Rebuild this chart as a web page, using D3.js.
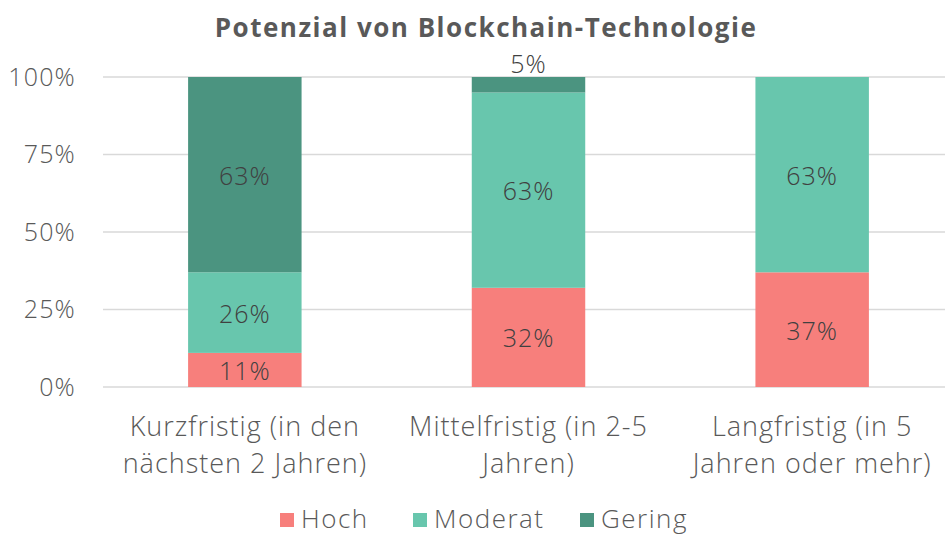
<!DOCTYPE html>
<html>
<head>
<meta charset="utf-8">
<script src="https://cdn.jsdelivr.net/npm/d3@7"></script>
<style>
  body { margin: 0; background: #fff; }
  text { font-family: "Open Sans", "Lato", sans-serif; font-weight: 300; }
</style>
</head>
<body>
<svg id="chart" width="945" height="535"></svg>
<script>
// data
var categories = [
  ["Kurzfristig (in den", "nächsten 2 Jahren)"],
  ["Mittelfristig (in 2-5", "Jahren)"],
  ["Langfristig (in 5", "Jahren oder mehr)"]
];
var seriesNames = ["Hoch", "Moderat", "Gering"];
var hoch = [11, 32, 37];
var moderat = [26, 63, 63];
var gering = [63, 5, 0];
var yTicks = [0, 25, 50, 75, 100];
var colors = ["#F77F7C", "#68C6AD", "#4B9480"];

var svg = d3.select("#chart"),
    margin = {top: 77, left: 103, bottom: 148, right: -9},
    width = +svg.attr("width"),
    height = +svg.attr("height");

var rows = categories.map((c, i) => ({cat: i, Hoch: hoch[i], Moderat: moderat[i], Gering: gering[i]}));

var x = d3.scaleBand()
    .domain(d3.range(categories.length))
    .range([margin.left, width - margin.right])
    .paddingInner(0.6)
    .paddingOuter(0.3);

var y = d3.scaleLinear()
    .domain([0, 100])
    .range([height - margin.bottom, margin.top]);

// gridlines
svg.append("g")
  .selectAll("line")
  .data(yTicks)
  .join("line")
    .attr("x1", margin.left).attr("x2", width)
    .attr("y1", d => y(d)).attr("y2", d => y(d))
    .attr("stroke", "#d9d9d9").attr("stroke-width", 1.5);

// y axis labels
var yAxis = svg.append("g")
    .attr("transform", `translate(${margin.left},0)`)
    .call(d3.axisLeft(y).tickValues(yTicks).tickFormat(d => d + "%").tickSize(0).tickPadding(27));
yAxis.select(".domain").remove();
yAxis.selectAll("text").attr("font-size", 25).attr("fill", "#595959")
    .attr("letter-spacing", 1.2)
    .style("font-family", '"Open Sans", "Lato", sans-serif').style("font-weight", 300);

// stacked bars
var stacked = d3.stack().keys(seriesNames)(rows);
var layers = svg.append("g").selectAll("g.layer")
  .data(stacked)
  .join("g").classed("layer", true)
    .attr("fill", (d, i) => colors[i]);

layers.selectAll("rect")
  .data(d => d)
  .join("rect")
    .attr("x", d => x(d.data.cat))
    .attr("width", x.bandwidth())
    .attr("y", d => y(d[1]))
    .attr("height", d => y(d[0]) - y(d[1]));

// data labels
layers.each(function(layer) {
  d3.select(this).selectAll("text")
    .data(layer.filter(d => d[1] - d[0] > 0))
    .join("text")
      .attr("x", d => x(d.data.cat) + x.bandwidth() / 2)
      .attr("y", d => {
        var v = d[1] - d[0];
        if (v < 8) return y(d[1]) - 4;
        return (y(d[0]) + y(d[1])) / 2 + 10;
      })
      .attr("text-anchor", "middle")
      .attr("font-size", 25)
      .attr("letter-spacing", 1)
      .attr("fill", "#404040")
      .text(d => (d[1] - d[0]) + "%");
});

// category labels
var xl = svg.append("g").selectAll("text")
  .data(categories)
  .join("text")
    .attr("text-anchor", "middle")
    .attr("font-size", 27)
    .attr("letter-spacing", 1)
    .attr("fill", "#595959")
    .attr("transform", (d, i) => `translate(${x(i) + x.bandwidth() / 2},436)`);
xl.selectAll("tspan")
  .data(d => d)
  .join("tspan")
    .attr("x", 0)
    .attr("dy", (d, i) => i ? 37 : 0)
    .text(d => d);

// title
svg.append("text")
    .attr("x", 486).attr("y", 37)
    .attr("text-anchor", "middle")
    .attr("font-size", 26)
    .style("font-weight", 700)
    .attr("letter-spacing", 1.5)
    .attr("fill", "#595959")
    .text("Potenzial von Blockchain-Technologie");

// legend
var legendX = [280, 413, 580];
var lg = svg.append("g").selectAll("g")
  .data(seriesNames)
  .join("g")
    .attr("transform", (d, i) => `translate(${legendX[i]},520)`);
lg.append("rect")
    .attr("x", 0).attr("y", -7).attr("width", 14).attr("height", 14)
    .attr("fill", (d, i) => colors[i]);
lg.append("text")
    .attr("x", 21).attr("y", 8)
    .attr("font-size", 26)
    .attr("letter-spacing", 1.5)
    .attr("fill", "#595959")
    .text(d => d);
</script>
</body>
</html>
